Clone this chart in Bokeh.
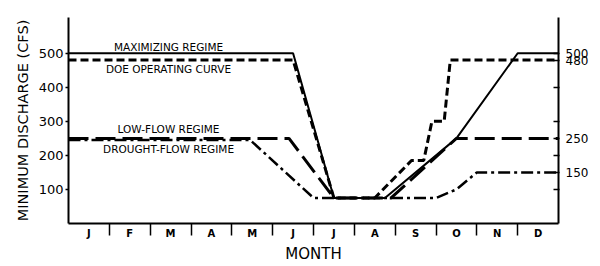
from bokeh.plotting import figure
from bokeh.models import LinearAxis, FixedTicker, Range1d, Label
from bokeh.embed import file_html
from bokeh.resources import INLINE

# ---- data ----
months = ["J", "F", "M", "A", "M", "J", "J", "A", "S", "O", "N", "D"]

max_x = [0, 5.5, 6.5, 7.75, 9.5, 11.0, 12]
max_y = [500, 500, 75, 75, 250, 500, 500]

doe_x = [0, 5.5, 6.5, 7.5, 8.4, 8.7, 8.9, 9.2, 9.35, 12]
doe_y = [480, 480, 75, 75, 185, 185, 300, 300, 480, 480]

low_x = [0, 5.4, 6.5, 7.9, 9.5, 12]
low_y = [250, 250, 75, 75, 250, 250]

drought_x = [0, 4.45, 6.0, 9.0, 9.5, 10.0, 12]
drought_y = [245, 245, 75, 75, 100, 150, 150]

left_ticks = [100, 200, 300, 400, 500]
right_ticks = [100, 150, 200, 250, 300, 400, 480, 500]
right_labels = {150: "150", 250: "250", 480: "480", 500: "500"}

series_names = ["MAXIMIZING REGIME", "DOE OPERATING CURVE",
                "LOW-FLOW REGIME", "DROUGHT-FLOW REGIME"]

FONT = "DejaVu Sans"

p = figure(width=600, height=266, output_backend="svg", toolbar_location=None,
           x_range=Range1d(0, 12), y_range=Range1d(0, 605),
           min_border_left=68, min_border_right=42,
           min_border_top=17, min_border_bottom=43)
p.outline_line_color = None
p.grid.visible = False
p.background_fill_color = "white"
p.border_fill_color = "white"

# lines
p.line(max_x, max_y, line_color="black", line_width=2)
p.line(doe_x, doe_y, line_color="black", line_width=3, line_dash="8 4")
p.line(low_x, low_y, line_color="black", line_width=3, line_dash="20 7")
p.line(drought_x, drought_y, line_color="black", line_width=2.5, line_dash="12 4 3 4")

# annotations
ann_y = [518, 453, 279, 218]
for name, yy in zip(series_names, ann_y):
    p.add_layout(Label(x=2.45, y=yy, text=name, text_align="center",
                       text_baseline="middle", text_font=FONT,
                       text_font_size="10.5px", text_color="black"))

# bottom axis
xa = p.xaxis[0]
centers = [i + 0.5 for i in range(12)]
xa.ticker = FixedTicker(ticks=centers, minor_ticks=list(range(1, 12)))
xa.major_label_overrides = {c: m for c, m in zip(centers, months)}
xa.major_tick_out = 0
xa.major_tick_in = 0
xa.minor_tick_out = 12
xa.minor_tick_in = 0
xa.minor_tick_line_width = 1.5
xa.minor_tick_line_color = "black"
xa.major_label_standoff = -8
xa.major_label_text_font = FONT
xa.major_label_text_font_size = "10px"
xa.major_label_text_font_style = "bold"
xa.major_label_text_color = "black"
xa.axis_line_width = 2
xa.axis_line_color = "black"
xa.axis_label = "MONTH"
xa.axis_label_text_font = FONT
xa.axis_label_text_font_size = "15px"
xa.axis_label_text_font_style = "normal"
xa.axis_label_text_color = "black"
xa.axis_label_standoff = 3

# left axis
ya = p.yaxis[0]
ya.ticker = FixedTicker(ticks=left_ticks, minor_ticks=[])
ya.major_tick_out = 3
ya.major_tick_in = 0
ya.major_tick_line_width = 1.5
ya.major_label_standoff = 2
ya.major_label_text_font = FONT
ya.major_label_text_font_size = "13px"
ya.major_label_text_color = "black"
ya.axis_line_width = 2
ya.axis_label = "MINIMUM DISCHARGE (CFS)"
ya.axis_label_text_font = FONT
ya.axis_label_text_font_size = "14.5px"
ya.axis_label_text_font_style = "normal"
ya.axis_label_text_color = "black"
ya.axis_label_standoff = 5

# right axis
ra = LinearAxis(ticker=FixedTicker(ticks=right_ticks, minor_ticks=[]))
ra.major_label_overrides = {t: right_labels.get(t, "") for t in right_ticks}
ra.major_tick_in = 5
ra.major_tick_out = 1
ra.major_tick_line_width = 1.5
ra.major_label_standoff = 6
ra.major_label_text_font = FONT
ra.major_label_text_font_size = "12px"
ra.major_label_text_color = "black"
ra.axis_line_width = 2
p.add_layout(ra, "right")

open("out.html", "w").write(file_html(p, INLINE))
